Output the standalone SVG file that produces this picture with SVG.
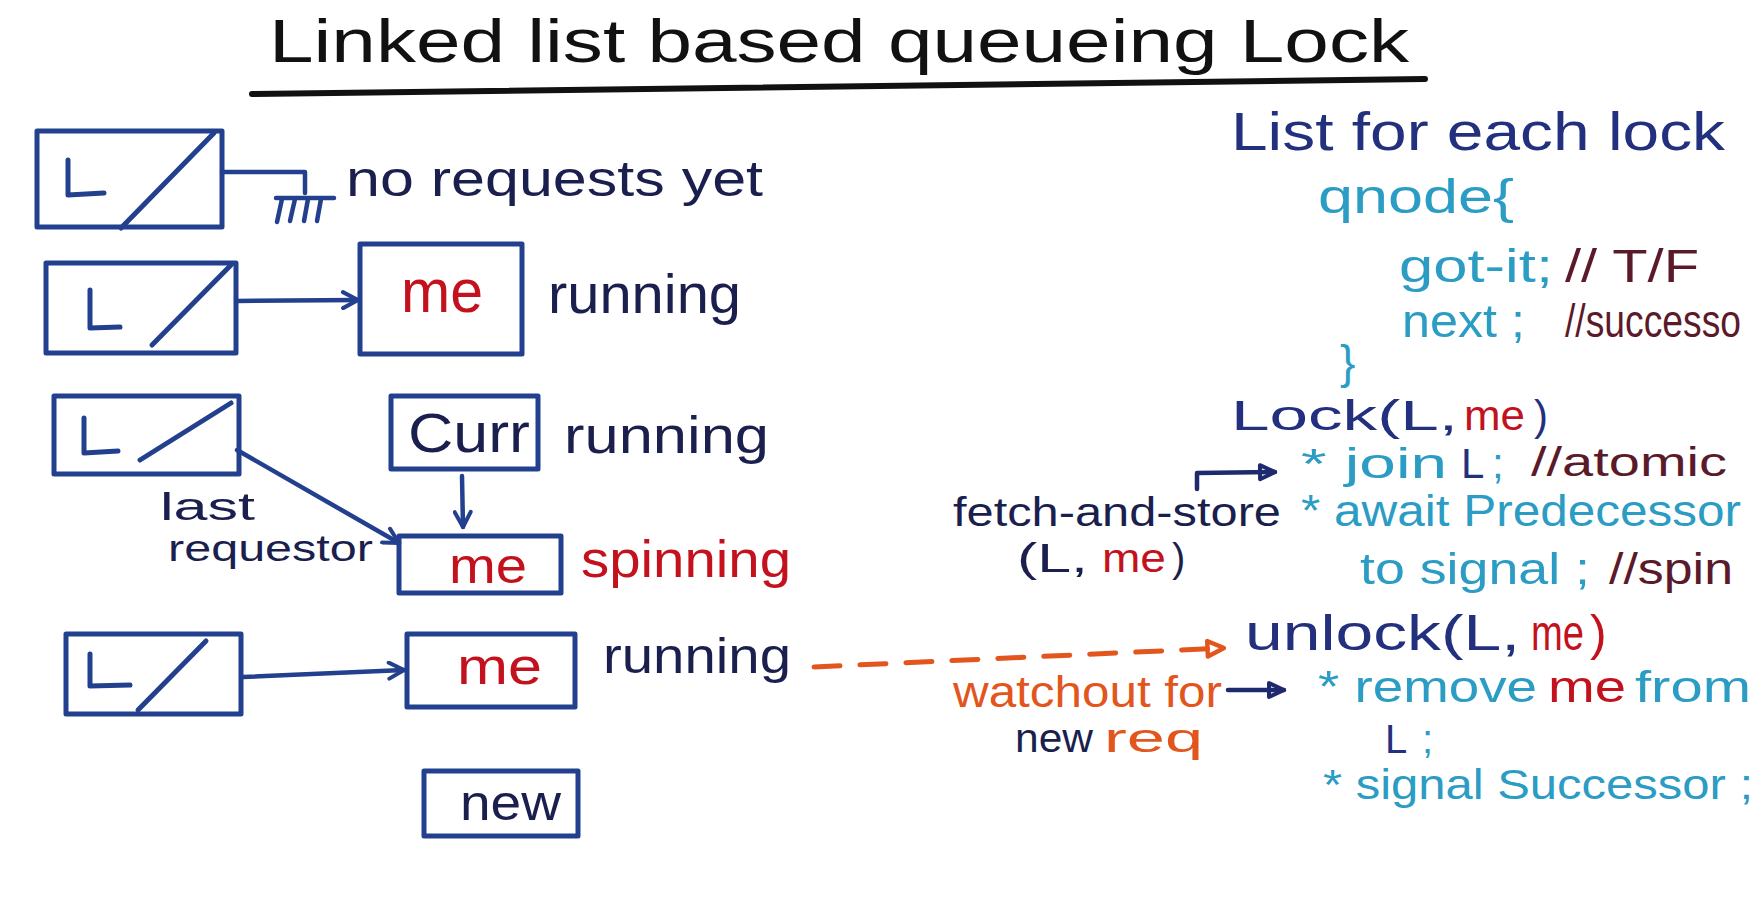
<svg xmlns="http://www.w3.org/2000/svg" width="1760" height="906" viewBox="0 0 1760 906">
<style>
text{font-family:"Liberation Sans","Open Sans",sans-serif;}
.ti{fill:#111;font-size:62px}
.dk{fill:#1b1f4e}
.nv{fill:#22307e}
.rd{fill:#c3121d}
.tl{fill:#2b9cc3}
.mr{fill:#5b1a2a}
.or{fill:#e2561e}
.bx{fill:none;stroke:#23408f;stroke-width:5;stroke-linejoin:round;stroke-linecap:round}
.ln{fill:none;stroke:#23408f;stroke-width:4.5;stroke-linecap:round;stroke-linejoin:round}
.L{fill:none;stroke:#23408f;stroke-width:5;stroke-linecap:round;stroke-linejoin:round}
</style>
<defs>
<marker id="ab" viewBox="0 0 20 20" refX="18" refY="10" markerWidth="20" markerHeight="20" markerUnits="userSpaceOnUse" orient="auto">
<path d="M3,2 L18,10 L3,18" fill="none" stroke="#23408f" stroke-width="4" stroke-linecap="round" stroke-linejoin="round"/>
</marker>
<marker id="tn" viewBox="0 0 20 20" refX="18" refY="10" markerWidth="20" markerHeight="20" markerUnits="userSpaceOnUse" orient="auto">
<path d="M3,3 L18,10 L3,17 Z" fill="none" stroke="#1e2a6e" stroke-width="4" stroke-linejoin="round"/>
</marker>
<marker id="to" viewBox="0 0 20 20" refX="18" refY="10" markerWidth="22" markerHeight="22" markerUnits="userSpaceOnUse" orient="auto">
<path d="M3,3 L18,10 L3,17 Z" fill="none" stroke="#e2561e" stroke-width="4" stroke-linejoin="round"/>
</marker>
</defs>
<rect width="1760" height="906" fill="#ffffff"/>

<g id="title">
<text class="ti" x="269" y="62" textLength="1140" lengthAdjust="spacingAndGlyphs">Linked list based queueing Lock</text>
<path d="M252,94 L1425,79" stroke="#111" stroke-width="6" stroke-linecap="round" fill="none"/>
</g>

<g id="lock-empty">
<rect class="bx" x="37" y="131" width="185" height="96"/>
<path class="L" d="M68,160 L68,195 L104,193"/>
<path class="bx" d="M121,228 L214,133"/>
</g>
<text id="no-requests" class="dk" x="346" y="196" font-size="50" textLength="417" lengthAdjust="spacingAndGlyphs">no requests yet</text>

<g id="lock-2">
<rect class="bx" x="46" y="263" width="190" height="90"/>
<path class="L" d="M90,290 L90,328 L120,327"/>
<path class="bx" d="M152,345 L231,265"/>
</g>
<g id="me-2">
<rect class="bx" x="360" y="244" width="162" height="110"/>
<text class="rd" x="401" y="312" font-size="62" textLength="82" lengthAdjust="spacingAndGlyphs">me</text>
</g>
<text id="running-2" class="dk" x="548" y="313" font-size="56" textLength="193" lengthAdjust="spacingAndGlyphs">running</text>

<g id="lock-3">
<rect class="bx" x="54" y="396" width="185" height="78"/>
<path class="L" d="M84,418 L84,453 L118,451"/>
<path class="bx" d="M140,460 L231,403"/>
</g>
<g id="curr">
<rect class="bx" x="391" y="396" width="147" height="73"/>
<text class="dk" x="408" y="452" font-size="56" textLength="122" lengthAdjust="spacingAndGlyphs">Curr</text>
</g>
<text id="running-3" class="dk" x="564" y="453" font-size="52" textLength="205" lengthAdjust="spacingAndGlyphs">running</text>
<text id="last" class="dk" x="160" y="520" font-size="38" textLength="95" lengthAdjust="spacingAndGlyphs">last</text>
<text id="requestor" class="dk" x="168" y="561" font-size="36" textLength="205" lengthAdjust="spacingAndGlyphs">requestor</text>
<g id="me-3">
<rect class="bx" x="399" y="536" width="162" height="57"/>
<text class="rd" x="449" y="583" font-size="50" textLength="78" lengthAdjust="spacingAndGlyphs">me</text>
</g>
<text id="spinning" class="rd" x="581" y="577" font-size="52" textLength="210" lengthAdjust="spacingAndGlyphs">spinning</text>

<g id="lock-4">
<rect class="bx" x="66" y="634" width="175" height="80"/>
<path class="L" d="M90,654 L90,686 L130,685"/>
<path class="bx" d="M138,710 L206,641"/>
</g>
<g id="me-4">
<rect class="bx" x="407" y="634" width="168" height="73"/>
<text class="rd" x="457" y="684" font-size="52" textLength="85" lengthAdjust="spacingAndGlyphs">me</text>
</g>
<text id="running-4" class="dk" x="603" y="673" font-size="50" textLength="188" lengthAdjust="spacingAndGlyphs">running</text>

<g id="new">
<rect class="bx" x="424" y="771" width="154" height="65"/>
<text class="dk" x="460" y="820" font-size="50" textLength="101" lengthAdjust="spacingAndGlyphs">new</text>
</g>

<g id="code">
<text class="nv" x="1231" y="150" font-size="54" textLength="494" lengthAdjust="spacingAndGlyphs">List for each lock</text>
<text class="tl" x="1318" y="213" font-size="48" textLength="196" lengthAdjust="spacingAndGlyphs">qnode{</text>
<text font-size="46" y="282"><tspan class="tl" x="1399" textLength="154" lengthAdjust="spacingAndGlyphs">got-it;</tspan><tspan class="mr" x="1565" textLength="134" lengthAdjust="spacingAndGlyphs">// T/F</tspan></text>
<text font-size="46" y="337"><tspan class="tl" x="1402" textLength="123" lengthAdjust="spacingAndGlyphs">next ;</tspan><tspan class="mr" x="1565" textLength="176" lengthAdjust="spacingAndGlyphs">//successo</tspan></text>
<text class="tl" x="1340" y="378" font-size="46">}</text>
<text font-size="42" y="430"><tspan class="nv" x="1231" textLength="227" lengthAdjust="spacingAndGlyphs">Lock(L,</tspan><tspan class="rd" x="1464" textLength="61" lengthAdjust="spacingAndGlyphs">me</tspan><tspan class="nv" x="1534">)</tspan></text>
<text font-size="42" y="478"><tspan class="tl" x="1301" textLength="146" lengthAdjust="spacingAndGlyphs">* join</tspan><tspan class="nv" x="1461">L</tspan><tspan class="tl" x="1492">;</tspan></text>
<text class="mr" x="1531" y="476" font-size="40" textLength="196" lengthAdjust="spacingAndGlyphs">//atomic</text>
<text class="tl" x="1301" y="526" font-size="44" textLength="440" lengthAdjust="spacingAndGlyphs">* await Predecessor</text>
<text font-size="44" y="584"><tspan class="tl" x="1360" textLength="230" lengthAdjust="spacingAndGlyphs">to signal ;</tspan><tspan class="mr" x="1609" textLength="124" lengthAdjust="spacingAndGlyphs">//spin</tspan></text>
<text font-size="50" y="650"><tspan class="nv" x="1245" textLength="275" lengthAdjust="spacingAndGlyphs">unlock(L,</tspan><tspan class="rd" x="1531" textLength="53" lengthAdjust="spacingAndGlyphs">me</tspan><tspan class="rd" x="1590">)</tspan></text>
<text font-size="44" y="702"><tspan class="tl" x="1318" textLength="219" lengthAdjust="spacingAndGlyphs">* remove</tspan><tspan class="rd" x="1548" textLength="78" lengthAdjust="spacingAndGlyphs">me</tspan><tspan class="tl" x="1635" textLength="116" lengthAdjust="spacingAndGlyphs">from</tspan></text>
<text font-size="40" y="753"><tspan class="nv" x="1385">L</tspan><tspan class="tl" x="1422">;</tspan></text>
<text class="tl" x="1323" y="799" font-size="42" textLength="430" lengthAdjust="spacingAndGlyphs">* signal Successor ;</text>
</g>
<g id="notes">
<text class="dk" x="953" y="526" font-size="40" textLength="328" lengthAdjust="spacingAndGlyphs">fetch-and-store</text>
<text font-size="40" y="572"><tspan class="dk" x="1017" textLength="71" lengthAdjust="spacingAndGlyphs">(L,</tspan><tspan class="rd" x="1102" textLength="64" lengthAdjust="spacingAndGlyphs">me</tspan><tspan class="dk" x="1172">)</tspan></text>
<text class="or" x="953" y="707" font-size="44" textLength="269" lengthAdjust="spacingAndGlyphs">watchout for</text>
<text font-size="40" y="752"><tspan class="dk" x="1015" textLength="78" lengthAdjust="spacingAndGlyphs">new</tspan><tspan class="or" x="1104" textLength="99" lengthAdjust="spacingAndGlyphs">req</tspan></text>
</g>

<g id="connectors">
<path class="ln" d="M222,172 L305,172 L305,193"/>
<path class="ln" d="M276,198 L334,198 M282,199 L277,222 M295,199 L290,221 M308,199 L304,221 M321,199 L317,221"/>
<path class="ln" d="M237,301 L358,300" marker-end="url(#ab)"/>
<path class="ln" d="M237,450 L399,543" marker-end="url(#ab)"/>
<path class="ln" d="M462,476 L463,527" marker-end="url(#ab)"/>
<path class="ln" d="M243,677 L404,670" marker-end="url(#ab)"/>
<path d="M1197,489 L1197,473 L1275,472" fill="none" stroke="#1e2a6e" stroke-width="4.5" stroke-linecap="round" stroke-linejoin="round" marker-end="url(#tn)"/>
<path d="M1228,690 L1284,690" fill="none" stroke="#1e2a6e" stroke-width="4.5" stroke-linecap="round" marker-end="url(#tn)"/>
<path d="M814,667 L1224,648" fill="none" stroke="#e2561e" stroke-width="5" stroke-dasharray="26,20" stroke-linecap="round" marker-end="url(#to)"/>
</g>
</svg>
